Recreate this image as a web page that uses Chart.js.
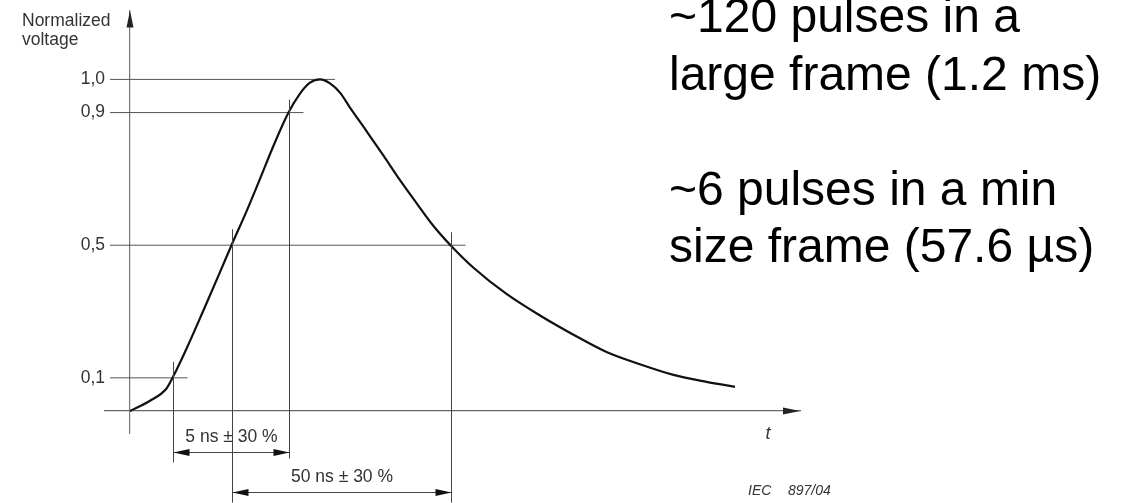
<!DOCTYPE html>
<html>
<head>
<meta charset="utf-8">
<title>Pulse shape</title>
<script src="https://cdn.jsdelivr.net/npm/chart.js@4.4.1/dist/chart.umd.min.js"></script>
<style>
  body { margin: 0; background: #fff; }
  canvas { display: block; }
</style>
</head>
<body>
<canvas id="pulseChart" width="1124" height="503"></canvas>
<script>
// PULSE SHAPE (t in arbitrary drawing units)
const pulseT = [0, 4, 7.3, 8.5, 11.3, 14.7, 18, 20.3, 23.3, 26, 28.7, 31.7, 34, 36, 38, 40, 42, 44, 47.3, 50.7, 54, 57.3, 60.7, 64.1, 68.7, 75.3, 82, 88.7, 95.3, 102, 108.7, 115.3, 121];
const pulseV = [0, 0.031, 0.068, 0.1, 0.188, 0.304, 0.419, 0.5, 0.602, 0.70, 0.80, 0.9, 0.957, 0.99, 1.0, 0.988, 0.96, 0.915, 0.844, 0.770, 0.696, 0.627, 0.558, 0.5, 0.432, 0.353, 0.288, 0.230, 0.178, 0.141, 0.109, 0.088, 0.073];

// REFERENCE LEVELS
const levelValues = [1.0, 0.9, 0.5, 0.1];
const levelLabels = ['1,0', '0,9', '0,5', '0,1'];
const levelEndT = [38, 31.7, 64.1, 8.5];

// TIMING RANGES
const rangeLabels = ['5 ns ± 30 %', '50 ns ± 30 %'];
const rangeStartT = [8.5, 20.3];
const rangeEndT = [31.7, 64.1];
const rangeStartLevel = [0.1, 0.5];
const rangeEndLevel = [0.9, 0.5];

// TEXTS
const yTitle = ['Normalized', 'voltage'];
const xTitle = 't';
const figureRef = ['IEC', '897/04'];
const noteLines = ['~120 pulses in a', 'large frame (1.2 ms)', '', '~6 pulses in a min', 'size frame (57.6 µs)'];

const FONT = '"Liberation Sans", Arial, sans-serif';
const Y_MIN = -0.0663;
const Y_MAX = 1.2078;

function arrowHead(ctx, x, y, dir, len, half) {
    ctx.beginPath();
    ctx.moveTo(x, y);
    if (dir === 'right') {
        ctx.lineTo(x - len, y - half);
        ctx.lineTo(x - len, y + half);
    } else if (dir === 'left') {
        ctx.lineTo(x + len, y - half);
        ctx.lineTo(x + len, y + half);
    } else {
        ctx.lineTo(x - half, y + len);
        ctx.lineTo(x + half, y + len);
    }
    ctx.closePath();
    ctx.fill();
}

function crisp(v) {
    return Math.round(v) + 0.5;
}

// DRAWING EXTRAS: arrows, timing marks, labels
const drawingPlugin = {
    id: 'drawing',
    afterDraw(chart) {
        let ctx = chart.ctx;
        let xs = chart.scales.x;
        let ys = chart.scales.y;
        let area = chart.chartArea;
        let x0 = xs.getPixelForValue(0);
        let y0 = ys.getPixelForValue(0);

        ctx.save();

        // axis arrow heads
        ctx.fillStyle = '#222';
        arrowHead(ctx, x0, area.top, 'up', 17, 3.5);
        arrowHead(ctx, area.right, y0, 'right', 17, 3.5);

        // timing ranges
        rangeLabels.forEach((label, i) => {
            let xa = crisp(xs.getPixelForValue(rangeStartT[i]));
            let xb = crisp(xs.getPixelForValue(rangeEndT[i]));
            let rowY = crisp(y0 + 41 + i * 40);

            ctx.strokeStyle = '#444';
            ctx.lineWidth = 1;
            ctx.beginPath();
            ctx.moveTo(xa, ys.getPixelForValue(rangeStartLevel[i]) - 16);
            ctx.lineTo(xa, rowY + 10);
            ctx.moveTo(xb, ys.getPixelForValue(rangeEndLevel[i]) - 13);
            ctx.lineTo(xb, rowY + (i === 0 ? 6 : 10));
            ctx.moveTo(xa, rowY);
            ctx.lineTo(xb, rowY);
            ctx.stroke();

            ctx.fillStyle = '#111';
            arrowHead(ctx, xa, rowY, 'left', 16, 3.5);
            arrowHead(ctx, xb, rowY, 'right', 16, 3.5);

            ctx.font = '17.5px ' + FONT;
            ctx.fillStyle = '#333';
            ctx.textAlign = 'center';
            ctx.textBaseline = 'middle';
            ctx.fillText(label, (xa + xb) / 2, rowY - 15);
        });

        // axis titles
        ctx.font = '17.5px ' + FONT;
        ctx.fillStyle = '#333';
        ctx.textAlign = 'left';
        ctx.textBaseline = 'alphabetic';
        ctx.fillText(yTitle[0], 22, 26);
        ctx.fillText(yTitle[1], 22, 45);

        ctx.font = 'italic 18px ' + FONT;
        ctx.textAlign = 'center';
        ctx.textBaseline = 'middle';
        ctx.fillText(xTitle, area.right - 32, y0 + 23);

        ctx.font = 'italic 14px ' + FONT;
        ctx.textAlign = 'left';
        ctx.textBaseline = 'alphabetic';
        ctx.fillText(figureRef[0], 748, 495);
        ctx.fillText(figureRef[1], 788, 495);

        // notes on the right
        ctx.font = '48px ' + FONT;
        ctx.fillStyle = '#000';
        noteLines.forEach((line, i) => {
            if (line) {
                ctx.fillText(line, 669, 32 + i * 57.5);
            }
        });

        ctx.restore();
    }
};

// DATASETS
let pulseData = pulseT.map((t, i) => ({ x: t, y: pulseV[i] }));

let datasets = [{
    data: pulseData,
    borderColor: '#111',
    borderWidth: 2.2,
    pointRadius: 0,
    cubicInterpolationMode: 'monotone'
}];

levelValues.forEach((level, i) => {
    datasets.push({
        data: [{ x: -4, y: level }, { x: levelEndT[i] + 3, y: level }],
        borderColor: '#555',
        borderWidth: 1,
        pointRadius: 0
    });
});

let pulseCtx = document.querySelector('#pulseChart').getContext('2d');

let pulseChart = new Chart(pulseCtx, {
    type: 'line',
    data: { datasets: datasets },
    options: {
        responsive: false,
        animation: false,
        devicePixelRatio: 1,
        layout: {
            padding: { left: 75, right: 324, top: 10, bottom: 70 }
        },
        plugins: {
            legend: { display: false },
            tooltip: { enabled: false }
        },
        scales: {
            x: {
                type: 'linear',
                min: -5,
                max: 134,
                position: { y: 0 },
                grid: { display: false },
                ticks: { display: false },
                border: { color: '#666', width: 1.3 }
            },
            y: {
                type: 'linear',
                min: Y_MIN,
                max: Y_MAX,
                position: { x: 0 },
                grid: { display: false },
                ticks: { display: false },
                border: { color: '#777', width: 1.2 }
            },
            yl: {
                type: 'linear',
                position: 'left',
                min: Y_MIN,
                max: Y_MAX,
                grid: { display: false, drawTicks: false },
                border: { display: false },
                afterBuildTicks: (scale) => {
                    scale.ticks = levelValues.map(v => ({ value: v }));
                },
                afterFit: (scale) => {
                    scale.width = 30;
                },
                ticks: {
                    padding: 0,
                    color: '#333',
                    font: { size: 17.5, family: FONT },
                    callback: (value) => levelLabels[levelValues.indexOf(value)]
                }
            }
        }
    },
    plugins: [drawingPlugin]
});
</script>
</body>
</html>
